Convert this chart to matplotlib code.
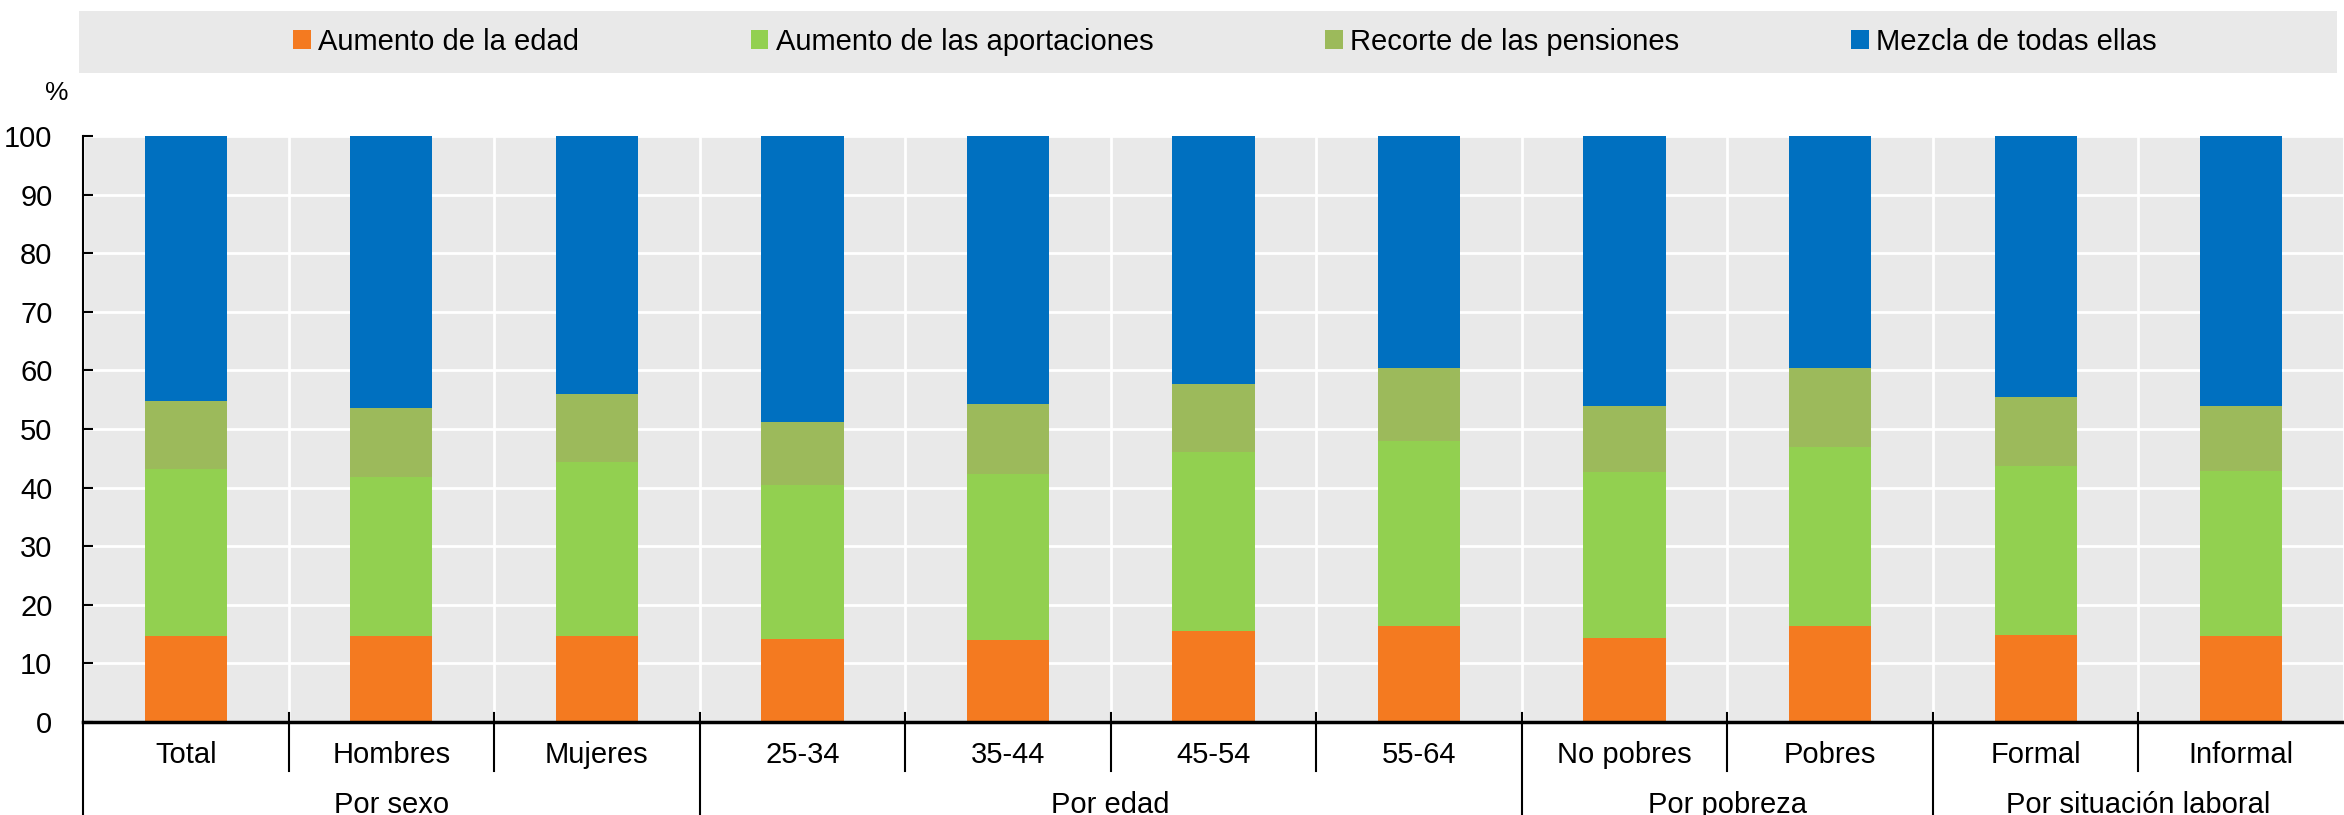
import matplotlib
matplotlib.use("Agg")
import matplotlib.pyplot as plt
import matplotlib.transforms as mtransforms
from matplotlib.patches import Rectangle
from matplotlib.lines import Line2D
import numpy as np

# === DATA ===
categories = ["Total", "Hombres", "Mujeres", "25-34", "35-44", "45-54", "55-64",
              "No pobres", "Pobres", "Formal", "Informal"]
groups = ["Por sexo", "Por edad", "Por pobreza", "Por situación laboral"]
group_sizes = [3, 4, 2, 2]

edad = [14.7, 14.7, 14.7, 14.2, 14.0, 15.5, 16.4, 14.4, 16.3, 14.8, 14.6]
aportaciones = [28.5, 27.1, 29.7, 26.2, 28.3, 30.6, 31.6, 28.3, 30.6, 28.9, 28.3]
recorte = [11.6, 11.8, 11.5, 10.8, 12.0, 11.6, 12.4, 11.2, 13.5, 11.7, 11.0]
mezcla = [45.2, 46.4, 44.1, 48.8, 45.7, 42.3, 39.6, 46.1, 39.6, 44.6, 46.1]

series_names = ["Aumento de la edad", "Aumento de las aportaciones",
                "Recorte de las pensiones", "Mezcla de todas ellas"]
series_colors = ["#F47A20", "#92D050", "#9CBA5B", "#0070C0"]

# === FIGURE ===
plt.rcParams['font.family'] = ['Liberation Sans Narrow', 'Liberation Sans', 'DejaVu Sans']
W, H = 2344, 815
fig = plt.figure(figsize=(W / 100, H / 100), dpi=100)

def fx(px):
    return px / W

def fy(py):
    return 1 - py / H

ax = fig.add_axes([fx(83), fy(722), 1 - fx(83), fy(136) - fy(722)])
ax.set_facecolor("#E9E9E9")

x = np.arange(len(categories))
bottom = np.zeros(len(categories))
for name, vals, col in zip(series_names, [edad, aportaciones, recorte, mezcla], series_colors):
    ax.bar(x, vals, width=0.4, bottom=bottom, color=col, label=name, zorder=3)
    bottom += np.array(vals)

ax.set_xlim(-0.5, len(categories) - 0.5)
ax.set_ylim(0, 100)
ax.set_yticks(range(0, 101, 10))
ax.set_xticks([])
ax.set_xticks(np.arange(-0.5, len(categories), 1), minor=True)
ax.grid(True, axis='y', color='white', linewidth=2, zorder=0)
ax.grid(True, axis='x', which='minor', color='white', linewidth=2, zorder=0)
ax.tick_params(axis='x', which='minor', length=0)
ax.tick_params(axis='y', direction='in', length=7, width=1.5, labelsize=21, pad=22)

for s in ['top', 'right']:
    ax.spines[s].set_visible(False)
ax.spines['left'].set_linewidth(1.5)
ax.spines['bottom'].set_linewidth(2.5)
ax.spines['bottom'].set_zorder(5)

# category labels and separators below the axis
trans = mtransforms.blended_transform_factory(ax.transData, fig.transFigure)
for i, cat in enumerate(categories):
    ax.text(i, fy(763), cat, transform=trans, ha='center', va='baseline', fontsize=21)

bounds = np.cumsum(group_sizes)[:-1] - 0.5
for b in np.arange(0.5, len(categories) - 1, 1):
    if b in bounds:
        y0 = 0
    else:
        y0 = fy(771)
    fig.add_artist(Line2D([b, b], [y0, fy(713)], transform=trans, color='black', linewidth=1.5))
fig.add_artist(Line2D([-0.5, -0.5], [0, fy(722)], transform=trans, color='black', linewidth=1.5))

start = 0
for g, n in zip(groups, group_sizes):
    center = start + (n - 1) / 2
    ax.text(center, fy(813), g, transform=trans, ha='center', va='baseline', fontsize=21)
    start += n

fig.text(fx(57), fy(93), "%", ha='center', va='center', fontsize=19)

# legend box
fig.add_artist(Rectangle((fx(79), fy(73)), fx(2337) - fx(79), fy(11) - fy(73),
                         transform=fig.transFigure, facecolor="#E9E9E9", edgecolor='none', zorder=0))
handles, labels = ax.get_legend_handles_labels()
fig.legend(handles, labels, loc='center', bbox_to_anchor=(fx(1225), fy(42)), ncol=4,
           frameon=False, fontsize=21, handlelength=0.6, handleheight=0.6,
           handletextpad=0.25, columnspacing=5.9)

fig.savefig("out.png", dpi=100)
